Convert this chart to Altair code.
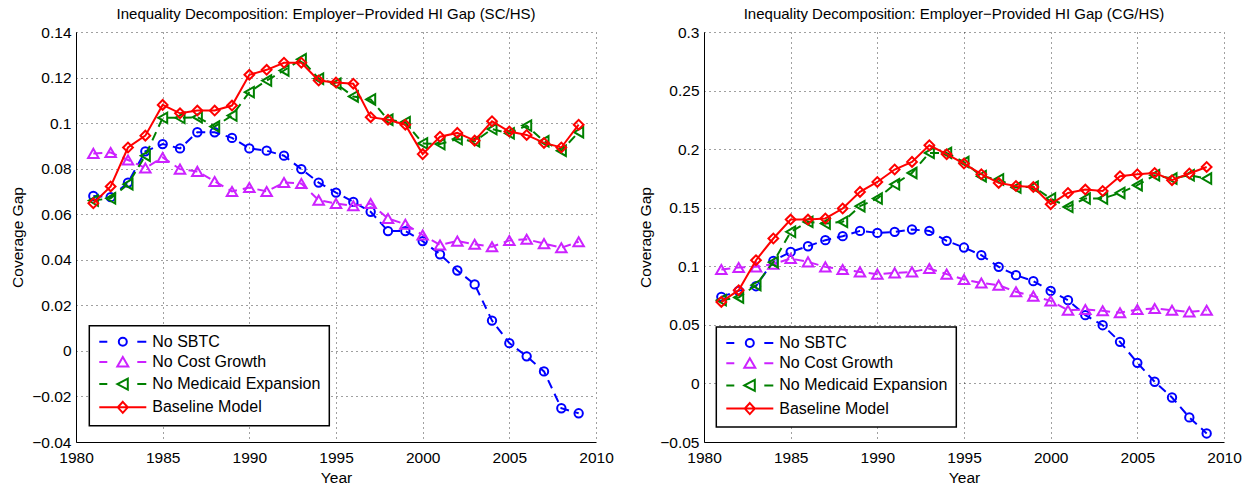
import altair as alt
import pandas as pd

years = list(range(1981, 2010))
series_names = ["No SBTC", "No Cost Growth", "No Medicaid Expansion", "Baseline Model"]
series_colors = ["#0000ff", "#cc22ff", "#008000", "#ff0000"]

# Left panel (SC/HS)
sc_no_sbtc = [0.0680, 0.0675, 0.0739, 0.0876, 0.0908, 0.0889, 0.0960, 0.0960, 0.0935, 0.0889,
              0.0879, 0.0857, 0.0798, 0.0739, 0.0695, 0.0654, 0.0611, 0.0526, 0.0526, 0.0482,
              0.0424, 0.0353, 0.0292, 0.0133, 0.0034, -0.0024, -0.0090, -0.0252, -0.0274]
sc_no_cost = [0.0867, 0.0871, 0.0838, 0.0803, 0.0849, 0.0798, 0.0788, 0.0744, 0.0700, 0.0717,
              0.0700, 0.0739, 0.0735, 0.0662, 0.0647, 0.0637, 0.0647, 0.0581, 0.0556, 0.0509,
              0.0465, 0.0482, 0.0468, 0.0457, 0.0485, 0.0490, 0.0471, 0.0453, 0.0479]
sc_no_medicaid = [0.0660, 0.0670, 0.0732, 0.0857, 0.1023, 0.1023, 0.1026, 0.0985, 0.1033, 0.1136,
                  0.1187, 0.1231, 0.1280, 0.1195, 0.1173, 0.1117, 0.1104, 0.1015, 0.1004, 0.0911,
                  0.0908, 0.0930, 0.0920, 0.0974, 0.0955, 0.0989, 0.0920, 0.0879, 0.0960]
sc_baseline = [0.0648, 0.0722, 0.0893, 0.0945, 0.1080, 0.1043, 0.1055, 0.1055, 0.1077, 0.1212,
               0.1234, 0.1265, 0.1265, 0.1187, 0.1178, 0.1173, 0.1026, 0.1015, 0.0993, 0.0864,
               0.0940, 0.0957, 0.0923, 0.1008, 0.0963, 0.0948, 0.0913, 0.0893, 0.0993]

# Right panel (CG/HS)
cg_no_sbtc = [0.0739, 0.0790, 0.0830, 0.1046, 0.1123, 0.1171, 0.1223, 0.1257, 0.1302, 0.1285,
              0.1294, 0.1314, 0.1302, 0.1217, 0.1160, 0.1095, 0.0995, 0.0924, 0.0873, 0.0790,
              0.0711, 0.0583, 0.0497, 0.0355, 0.0176, 0.0014, -0.0120, -0.0290, -0.0427]
cg_no_cost = [0.0973, 0.0990, 0.0995, 0.1018, 0.1066, 0.1038, 0.0995, 0.0973, 0.0952, 0.0933,
              0.0944, 0.0952, 0.0981, 0.0933, 0.0887, 0.0858, 0.0839, 0.0782, 0.0745, 0.0705,
              0.0625, 0.0631, 0.0620, 0.0603, 0.0631, 0.0640, 0.0625, 0.0611, 0.0625]
cg_no_medicaid = [0.0711, 0.0734, 0.0839, 0.1035, 0.1294, 0.1379, 0.1365, 0.1379, 0.1513, 0.1578,
                  0.1700, 0.1797, 0.1968, 0.1968, 0.1890, 0.1769, 0.1741, 0.1672, 0.1680, 0.1578,
                  0.1507, 0.1578, 0.1578, 0.1626, 0.1692, 0.1777, 0.1749, 0.1777, 0.1749]
cg_baseline = [0.0696, 0.0796, 0.1052, 0.1237, 0.1399, 0.1399, 0.1408, 0.1493, 0.1635, 0.1720,
               0.1826, 0.1891, 0.2033, 0.1957, 0.1877, 0.1786, 0.1712, 0.1686, 0.1677, 0.1530,
               0.1626, 0.1655, 0.1643, 0.1769, 0.1786, 0.1797, 0.1735, 0.1792, 0.1848]

x_ticks = [1980, 1985, 1990, 1995, 2000, 2005, 2010]
sc_y_ticks = [-0.04, -0.02, 0, 0.02, 0.04, 0.06, 0.08, 0.1, 0.12, 0.14]
cg_y_ticks = [-0.05, 0, 0.05, 0.1, 0.15, 0.2, 0.25, 0.3]

FONT = "Liberation Sans"

# plot marker shapes and legend glyphs (line sample + marker)
marker_shapes = ["circle", "triangle-up", "triangle-left", "diamond"]
marker_sizes = [70, 110, 110, 95]
dashes = [[9, 6], [9, 6], [9, 6], None]
legend_glyphs = [
    "M-1.2,0H0.4M4.3,0A0.8,0.8 0 1,1 2.7,0A0.8,0.8 0 1,1 4.3,0M6.4,0H8.2",
    "M-1.2,0H0.4M3.5,-1L2.4,0.9L4.6,0.9ZM6.4,0H8.2",
    "M-1.2,0H0.4M2.4,0L4.5,-1.1L4.5,1.1ZM6.4,0H8.2",
    "M-1.2,0H8.2M3.5,-1.1L4.5,0L3.5,1.1L2.5,0Z",
]


def make_df(vals):
    rows = []
    for name, series in zip(series_names, vals):
        for yr, v in zip(years, series):
            rows.append({"year": yr, "value": v, "series": name})
    return pd.DataFrame(rows)


def panel(df, title, ydomain, yticks, lx, ly):
    base = alt.Chart(df)
    x = alt.X("year:Q", scale=alt.Scale(domain=[1980, 2010], nice=False, zero=False),
              axis=alt.Axis(values=x_ticks, format="d", title="Year", titlePadding=5,
                            labelFlush=False, labelPadding=8))
    y = alt.Y("value:Q", scale=alt.Scale(domain=ydomain, nice=False, zero=False),
              axis=alt.Axis(values=yticks, title="Coverage Gap",
                            labelExpr="replace(format(datum.value, '.2~f'), '-', '\u2212')",
                            titlePadding=6, labelFlush=False, labelPadding=5))
    layers = []
    for name, color, shape, size, dash in zip(series_names, series_colors, marker_shapes,
                                              marker_sizes, dashes):
        sub = base.transform_filter(alt.datum.series == name)
        if dash is None:
            line = sub.mark_line(color=color, strokeWidth=2)
        else:
            line = sub.mark_line(color=color, strokeWidth=2, strokeDash=dash)
        layers.append(line.encode(x=x, y=y))
        layers.append(sub.mark_point(color=color, shape=shape, size=size, filled=False,
                                     strokeWidth=2, opacity=1).encode(x=x, y=y))
    leg = alt.Legend(title=None, orient="none", legendX=lx, legendY=ly, fillColor="white",
                     strokeColor="black", padding=8, labelFontSize=16, labelFont=FONT,
                     labelLimit=400, symbolSize=100, symbolStrokeWidth=2, labelOffset=39,
                     rowPadding=3.2, cornerRadius=0)
    legend_layer = base.transform_filter("false").mark_point(filled=False, strokeWidth=2, opacity=1).encode(
        x=x, y=y,
        color=alt.Color("series:N", scale=alt.Scale(domain=series_names, range=series_colors), legend=leg),
        shape=alt.Shape("series:N", scale=alt.Scale(domain=series_names, range=legend_glyphs), legend=leg),
    )
    layers.append(legend_layer)
    return alt.layer(*layers).properties(
        width=520, height=410,
        title=alt.TitleParams(title, fontSize=15, font=FONT, fontWeight="normal", anchor="middle",
                              offset=3, dx=-10, color="black"),
    )


left = panel(make_df([sc_no_sbtc, sc_no_cost, sc_no_medicaid, sc_baseline]),
             "Inequality Decomposition: Employer\u2212Provided HI Gap (SC/HS)",
             [-0.04, 0.14], sc_y_ticks, 13.3, 293.7)
right = panel(make_df([cg_no_sbtc, cg_no_cost, cg_no_medicaid, cg_baseline]),
              "Inequality Decomposition: Employer\u2212Provided HI Gap (CG/HS)",
              [-0.05, 0.3], cg_y_ticks, 12.3, 295)

chart = alt.hconcat(left, right, spacing=24).resolve_scale(
    color="independent", shape="independent"
).resolve_legend(
    color="independent", shape="independent"
).properties(
    padding={"left": 10, "top": 7, "right": 5, "bottom": 3}
).configure_view(stroke=None).configure_axis(
    domainColor="black", domainWidth=1, gridColor="black", gridDash=[1, 4], gridOpacity=0.75,
    labelFontSize=15.5, labelFont=FONT, labelColor="black", titleFontSize=15.5, titleFont=FONT,
    titleFontWeight="normal", titleColor="black", ticks=False
).configure_legend(strokeWidth=1.5)

chart.save("out.html", embed_options={"renderer": "svg", "actions": False})
